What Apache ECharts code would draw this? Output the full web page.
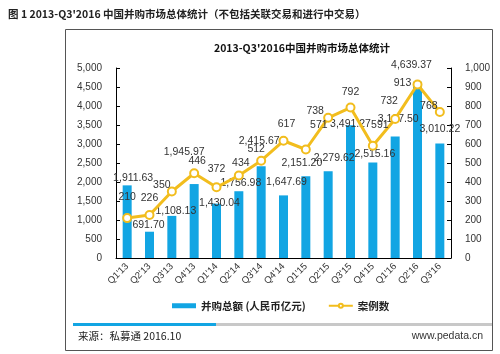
<!DOCTYPE html>
<html>
<head>
<meta charset="utf-8">
<script src="https://cdn.jsdelivr.net/npm/echarts@6/dist/echarts.min.js"></script>
<style>
  html, body { margin: 0; padding: 0; background: #fff; }
  #main { width: 500px; height: 354px; }
</style>
</head>
<body>
<div id="main"></div>
<script>
// 数据
var quarters = ["Q1'13", "Q2'13", "Q3'13", "Q4'13", "Q1'14", "Q2'14", "Q3'14", "Q4'14",
                "Q1'15", "Q2'15", "Q3'15", "Q4'15", "Q1'16", "Q2'16", "Q3'16"];
var dealAmount = [1911.63, 691.70, 1108.13, 1945.97, 1430.04, 1756.98, 2415.67, 1647.69,
                  2151.20, 2279.62, 3491.27, 2515.16, 3197.50, 4639.37, 3010.22];
var dealCount = [210, 226, 350, 446, 372, 434, 512, 617, 571, 738, 792, 591, 732, 913, 768];

// 数据标签的位置微调（原图标签是手动摆放的）
var barLabelShift = [[6, -2], [-1, -1], [4, 1], [-10, -26], [3, 5], [2, -3], [-2, -20], [3, -8],
                     [-4, -8], [6, -8], [0, 4], [2, -3], [3, -12], [-6, -11], [0, -9]];
var lineLabelShift = [[0, -10], [0, -6], [-10, 4], [3, -2], [0, -8], [2, -2], [-5, -1], [3, -6],
                      [13, -14], [-13, 4], [0, -5], [7, -10], [-6, -7], [-15, 9], [-11, 5]];

var cn = '"Noto Sans CJK SC", "Liberation Sans", sans-serif';
var num = '"Liberation Sans", Arial, sans-serif';

var barData = dealAmount.map(function (v, i) {
    return { value: v, label: { offset: barLabelShift[i] } };
});
var lineData = dealCount.map(function (v, i) {
    return { value: v, label: { offset: lineLabelShift[i] } };
});

var myChart = echarts.init(document.getElementById('main'));

var option = {
    animation: false,
    title: [{
        text: "图 1 2013-Q3'2016 中国并购市场总体统计（不包括关联交易和进行中交易）",
        left: 3, top: 4,
        textStyle: { fontFamily: cn, fontSize: 10.5, fontWeight: 'bold', color: '#222' }
    }, {
        text: "2013-Q3'2016中国并购市场总体统计",
        left: 297, top: 38, textAlign: 'center',
        textStyle: { fontFamily: cn, fontSize: 10.5, fontWeight: 'bold', color: '#111' }
    }],
    legend: {
        bottom: 38, left: 167, itemGap: 22,
        itemWidth: 24, itemHeight: 5,
        textStyle: { fontFamily: cn, fontSize: 10.5, fontWeight: 'bold', color: '#222' },
        data: [
            { name: '并购总额 (人民币亿元)', icon: 'rect' },
            { name: '案例数' }
        ]
    },
    grid: { left: 116, right: 49, top: 68, bottom: 96 },
    xAxis: {
        type: 'category',
        data: quarters,
        axisLine: { lineStyle: { color: '#000', width: 1 } },
        axisTick: { length: 3, lineStyle: { color: '#000' } },
        axisLabel: { rotate: 45, fontFamily: num, fontSize: 9.5, color: '#333', margin: 7 }
    },
    yAxis: [{
        type: 'value', min: 0, max: 5000, interval: 500,
        axisLine: { show: true, lineStyle: { color: '#000' } },
        axisTick: { show: true, inside: true, length: 4, lineStyle: { color: '#000' } },
        splitLine: { show: false },
        axisLabel: {
            fontFamily: num, fontSize: 10, color: '#333', margin: 14,
            formatter: function (v) { return v.toLocaleString('en-US'); }
        }
    }, {
        type: 'value', min: 0, max: 1000, interval: 100,
        axisLine: { show: true, lineStyle: { color: '#000' } },
        axisTick: { show: true, inside: true, length: 4, lineStyle: { color: '#000' } },
        splitLine: { show: false },
        axisLabel: { fontFamily: num, fontSize: 10, color: '#333', margin: 14 }
    }],
    series: [{
        name: '并购总额 (人民币亿元)',
        type: 'bar',
        barWidth: 9,
        itemStyle: { color: '#12a5e3' },
        label: {
            show: true, position: 'top', distance: 0,
            fontFamily: num, fontSize: 10.5, color: '#333',
            formatter: function (p) {
                return p.value.toLocaleString('en-US', { minimumFractionDigits: 2, maximumFractionDigits: 2 });
            }
        },
        data: barData
    }, {
        name: '案例数',
        type: 'line',
        yAxisIndex: 1,
        symbol: 'circle', symbolSize: 8,
        lineStyle: { color: '#f2bd1d', width: 3 },
        itemStyle: { color: '#fff', borderColor: '#f2bd1d', borderWidth: 2 },
        label: { show: true, position: 'top', distance: 0, fontFamily: num, fontSize: 10.5, color: '#333' },
        data: lineData
    }],
    graphic: [
        // 外框
        { type: 'rect', shape: { x: 65.5, y: 29.5, width: 427, height: 321 },
          style: { fill: 'none', stroke: '#555', lineWidth: 1 } },
        // 底部分隔条
        { type: 'rect', shape: { x: 73, y: 323, width: 419, height: 3 }, style: { fill: '#c8c8c8' } },
        { type: 'rect', shape: { x: 73, y: 323, width: 143, height: 3 }, style: { fill: '#12a5e3' } },
        { type: 'text', left: 78, top: 331,
          style: { text: '来源：私募通 2016.10', font: '10.5px ' + cn, fill: '#222' } },
        { type: 'text', right: 17, top: 331,
          style: { text: 'www.pedata.cn', font: '10.5px ' + num, fill: '#333' } }
    ]
};

myChart.setOption(option);
</script>
</body>
</html>
